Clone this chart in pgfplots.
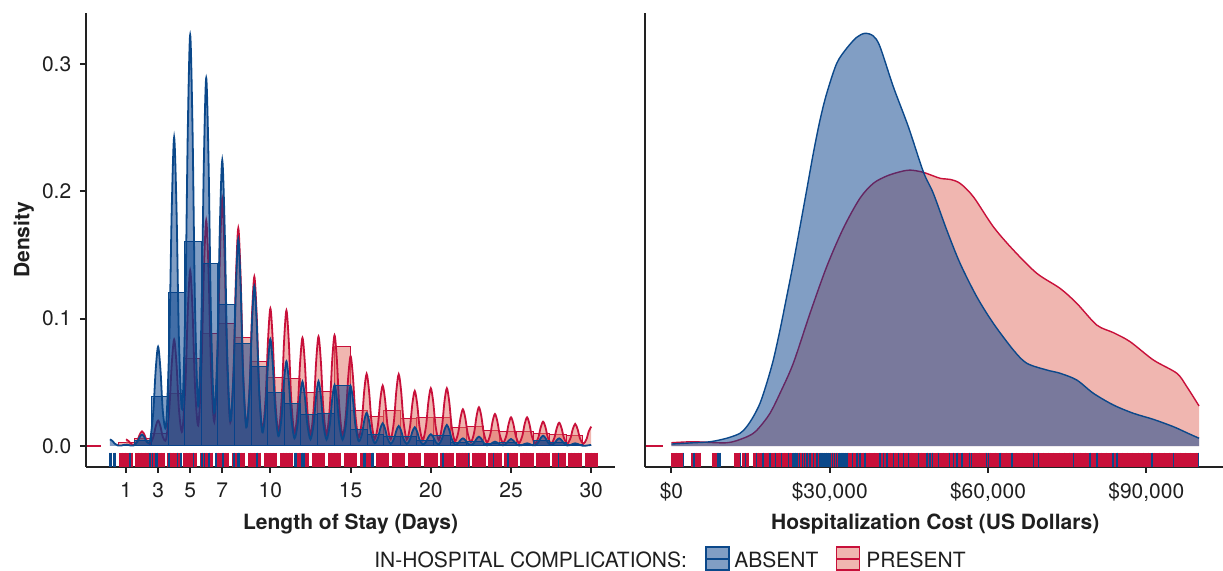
\documentclass[border=0pt]{standalone}
\usepackage{pgfplots}
\usepackage{pgfplotstable}
\usepackage{fontspec}
\setmainfont{TeX Gyre Heros}
\pgfplotsset{compat=1.18}

\definecolor{absline}{RGB}{11,72,138}
\definecolor{absfill}{RGB}{4,62,138}
\definecolor{presline}{RGB}{200,16,58}
\definecolor{presfill}{RGB}{225,109,97}
\definecolor{axisgray}{RGB}{34,34,34}
\newcommand\chartfont{\fontsize{10.5pt}{12pt}\selectfont}

% ---------- Length of stay: histogram bins (left edge, density) ----------
\pgfplotstableread{
x y
0.5172 0.0026
1.5517 0.0057
2.5862 0.0099
3.6207 0.0415
4.6552 0.0686
5.6897 0.0880
6.7241 0.0964
7.7586 0.0850
8.7931 0.0661
9.8276 0.0537
10.8621 0.0529
11.8966 0.0422
12.9310 0.0427
13.9655 0.0782
15.0000 0.0281
16.0345 0.0235
17.0690 0.0280
18.1034 0.0215
19.1379 0.0225
20.1724 0.0225
21.2069 0.0143
22.2414 0.0151
23.2759 0.0125
24.3103 0.0112
25.3448 0.0112
26.3793 0.0095
27.4138 0.0091
28.4483 0.0086
29.4828 0.0086
}\histpres
\pgfplotstableread{
x y
0.5172 0.0005
1.5517 0.0045
2.5862 0.0388
3.6207 0.1204
4.6552 0.1605
5.6897 0.1436
6.7241 0.1115
7.7586 0.0807
8.7931 0.0623
9.8276 0.0417
10.8621 0.0330
11.8966 0.0251
12.9310 0.0252
13.9655 0.0472
15.0000 0.0129
16.0345 0.0088
17.0690 0.0078
18.1034 0.0073
19.1379 0.0046
20.1724 0.0082
21.2069 0.0030
22.2414 0.0036
23.2759 0.0017
24.3103 0.0027
25.3448 0.0010
26.3793 0.0040
27.4138 0.0030
28.4483 0.0010
29.4828 0.0010
}\histabs

% ---------- Length of stay: kernel density curves ----------
\pgfplotstableread{
x y
1 .0052
1.15 .0040
1.3 .0018
1.5 .00085
1.7 .0039
1.85 .0088
2 .0115
2.15 .0088
2.3 .0039
2.5 .0016
2.7 .0069
2.85 .0153
3 .0200
3.15 .0153
3.3 .0069
3.5 .0053
3.7 .0287
3.85 .0640
4 .0836
4.15 .0640
4.3 .0287
4.5 .0113
4.7 .0473
4.85 .1056
5 .1380
5.15 .1056
5.3 .0473
5.5 .0161
5.7 .0607
5.85 .1356
6 .1772
6.15 .1356
6.3 .0607
6.5 .0190
6.7 .0665
6.85 .1484
7 .1940
7.15 .1484
7.3 .0665
7.5 .0187
7.7 .0586
7.85 .1308
8 .1710
8.15 .1308
8.3 .0586
8.5 .0155
8.7 .0456
8.85 .1018
9 .1330
9.15 .1018
9.3 .0456
9.5 .0123
9.7 .0370
9.85 .0826
10 .1080
10.15 .0826
10.3 .0370
10.5 .0110
10.7 .0365
10.85 .0815
11 .1065
11.15 .0815
11.3 .0365
11.5 .0098
11.7 .0291
11.85 .0650
12 .0850
12.15 .0650
12.3 .0291
12.5 .0087
12.7 .0295
12.85 .0658
13 .0860
13.15 .0658
13.3 .0295
13.5 .0088
13.7 .0298
13.85 .0666
14 .0870
14.15 .0666
14.3 .0298
14.5 .0080
14.7 .0242
14.85 .0539
15 .0705
15.15 .0539
15.3 .0242
15.5 .0065
15.7 .0194
15.85 .0433
16 .0566
16.15 .0433
16.3 .0194
16.5 .0053
16.7 .0162
16.85 .0363
17 .0474
17.15 .0363
17.3 .0162
17.5 .0053
17.7 .0193
17.85 .0431
18 .0563
18.15 .0431
18.3 .0193
18.5 .0051
18.7 .0148
18.85 .0331
19 .0432
19.15 .0331
19.3 .0148
19.5 .0045
19.7 .0155
19.85 .0347
20 .0453
20.15 .0347
20.3 .0155
20.5 .0046
20.7 .0155
20.85 .0347
21 .0453
21.15 .0347
21.3 .0155
21.5 .0038
21.7 .0099
21.85 .0220
22 .0288
22.15 .0220
22.3 .0099
22.5 .0030
22.7 .0104
22.85 .0233
23 .0304
23.15 .0233
23.3 .0104
23.5 .0028
23.7 .0086
23.85 .0192
24 .0251
24.15 .0192
24.3 .0086
24.5 .0024
24.7 .0077
24.85 .0172
25 .0225
25.15 .0172
25.3 .0077
25.5 .0023
25.7 .0077
25.85 .0172
26 .0225
26.15 .0172
26.3 .0077
26.5 .0021
26.7 .0065
26.85 .0146
27 .0191
27.15 .0146
27.3 .0065
27.5 .0019
27.7 .0063
27.85 .0140
28 .0183
28.15 .0140
28.3 .0063
28.5 .0018
28.7 .0059
28.85 .0132
29 .0173
29.15 .0132
29.3 .0059
29.5 .0017
29.7 .0052
29.85 .0116
30 .0152
}\kdepres
\pgfplotstableread{
x y
0 .0052
0.15 .0040
0.3 .0018
0.5 .0003
0.7 .0003
0.85 .0008
1 .0010
1.15 .0008
1.3 .0003
1.5 .0005
1.7 .0031
1.85 .0069
2 .0090
2.15 .0069
2.3 .0031
2.5 .0044
2.7 .0267
2.85 .0597
3 .0780
3.15 .0597
3.3 .0267
3.5 .0164
3.7 .0831
3.85 .1855
4 .2424
4.15 .1855
4.3 .0831
4.5 .0289
4.7 .1107
4.85 .2471
5 .3230
5.15 .2471
5.3 .1107
5.5 .0313
5.7 .0990
5.85 .2211
6 .2890
6.15 .2211
6.3 .0990
6.5 .0262
6.7 .0769
6.85 .1718
7 .2245
7.15 .1718
7.3 .0769
7.5 .0198
7.7 .0557
7.85 .1243
8 .1624
8.15 .1243
8.3 .0557
8.5 .0147
8.7 .0430
8.85 .0960
9 .1255
9.15 .0960
9.3 .0430
9.5 .0107
9.7 .0288
9.85 .0643
10 .0840
10.15 .0643
10.3 .0288
10.5 .0077
10.7 .0228
10.85 .0509
11 .0665
11.15 .0509
11.3 .0228
11.5 .0060
11.7 .0173
11.85 .0386
12 .0505
12.15 .0386
12.3 .0173
12.5 .0052
12.7 .0174
12.85 .0389
13 .0508
13.15 .0389
13.3 .0174
13.5 .0050
13.7 .0164
13.85 .0366
14 .0479
14.15 .0366
14.3 .0164
14.5 .0049
14.7 .0161
14.85 .0360
15 .0471
15.15 .0360
15.3 .0161
15.5 .0037
15.7 .0089
15.85 .0199
16 .0260
16.15 .0199
16.3 .0089
16.5 .0022
16.7 .0061
16.85 .0136
17 .0178
17.15 .0136
17.3 .0061
17.5 .0017
17.7 .0054
17.85 .0120
18 .0157
18.15 .0120
18.3 .0054
18.5 .0016
18.7 .0050
18.85 .0112
19 .0147
19.15 .0112
19.3 .0050
19.5 .0012
19.7 .0032
19.85 .0070
20 .0092
20.15 .0070
20.3 .0032
20.5 .0013
20.7 .0057
20.85 .0126
21 .0165
21.15 .0126
21.3 .0057
21.5 .0011
21.7 .0021
21.85 .0046
22 .0060
22.15 .0046
22.3 .0021
22.5 .0007
22.7 .0025
22.85 .0056
23 .0073
23.15 .0056
23.3 .0025
23.5 .0005
23.7 .0012
23.85 .0026
24 .0034
24.15 .0026
24.3 .0012
24.5 .0005
24.7 .0019
24.85 .0042
25 .0055
25.15 .0042
25.3 .0019
25.5 .0004
25.7 .0007
25.85 .0016
26 .0021
26.15 .0016
26.3 .0007
26.5 .0005
26.7 .0028
26.85 .0062
27 .0081
27.15 .0062
27.3 .0028
27.5 .0007
27.7 .0021
27.85 .0046
28 .0060
28.15 .0046
28.3 .0021
28.5 .0004
28.7 .0007
28.85 .0016
29 .0021
29.15 .0016
29.3 .0007
29.5 .0001
29.7 .0003
29.85 .0006
30 .0008
}\kdeabs

% ---------- Hospitalization cost: density (x in US$, y in 1e-5 per $) ----------
\pgfplotstableread{
x y
0 .023
4133 .030
10466 .023
13613 .055
15509 .090
16780 .137
18676 .232
20572 .374
23093 .587
26260 .941
29426 1.272
32573 1.544
35721 1.757
38262 1.863
40802 1.915
43324 1.945
45220 1.957
47741 1.941
50908 1.899
52805 1.891
54700 1.863
57222 1.768
61013 1.555
64805 1.390
69242 1.225
73660 1.118
76826 1.012
80618 .858
83765 .804
86932 .740
91349 .610
95785 .516
97681 .421
100000 .284
}\costpres
\pgfplotstableread{
x y
0 .014
4133 .023
7300 .030
10466 .055
12988 .090
14258 .137
15509 .208
16780 .303
18050 .445
19301 .610
20572 .823
21842 1.059
23093 1.296
24364 1.555
25634 1.816
26885 2.076
28156 2.312
29426 2.501
31322 2.714
33218 2.821
35114 2.899
36688 2.927
38262 2.908
39532 2.832
42053 2.548
44897 2.265
47741 1.945
49637 1.792
52178 1.532
54700 1.296
57866 1.059
61013 .870
64805 .681
67346 .587
71138 .539
73660 .516
76826 .468
79973 .374
83765 .291
87557 .232
91349 .189
95141 .137
97681 .094
100000 .055
}\costabs

\pgfplotsset{
  panel/.style={
    anchor=south west, scale only axis, height=226.85pt,
    axis x line*=bottom, axis y line*=left,
    axis line style={-, axisgray, line width=1pt},
    tick align=outside, major tick length=3pt,
    tick style={axisgray, line width=1pt},
    tick label style={font=\chartfont, text=black!88},
    xticklabel style={yshift=-1.5pt},
    yticklabel style={xshift=-0.8pt},
    scaled ticks=false, axis on top,
  },
  rugpres/.style={only marks, mark=|, mark size=3.5pt,
    mark options={presline, line width=1.9pt}},
  rugabs/.style={only marks, mark=|, mark size=3.5pt,
    mark options={absline, line width=0.8pt}},
}

\begin{document}
\begin{tikzpicture}
\useasboundingbox (0,0) rectangle (611.5pt,285.5pt);

% ===================== Length of stay =====================
\begin{axis}[panel, at={(42.95pt,52.2pt)}, width=264.7pt,
  xmin=-1.5, xmax=31.5, ymin=-0.0162, ymax=0.3402,
  xtick={1,3,5,7,10,15,20,25,30},
  xticklabels={1,3,5,7,10,15,20,25,30},
  ytick={0,0.1,0.2,0.3}, yticklabels={0.0,0.1,0.2,0.3}]
  % present
  \addplot[ybar interval, fill=presfill, fill opacity=0.5,
    draw=presline, line width=0.5pt] table {\histpres};
  \addplot[draw=none, fill=presfill, fill opacity=0.5, smooth]
    table {\kdepres} \closedcycle;
  \addplot[presline, line width=0.9pt, smooth] table {\kdepres};
  % absent
  \addplot[ybar interval, fill=absfill, fill opacity=0.5,
    draw=absline, line width=0.5pt] table {\histabs};
  \addplot[draw=none, fill=absfill, fill opacity=0.5, smooth]
    table {\kdeabs} \closedcycle;
  \addplot[absline, line width=0.9pt, smooth] table {\kdeabs};
  % rugs
  \addplot[presline, line width=1.3pt] coordinates {(-1.5,0) (-0.58,0)};
  \addplot[rugpres] table[row sep=\\, x=x, y expr=-0.0107] {x\\
    0.7\\0.9\\1.1\\1.3\\1.7\\1.9\\2.1\\2.3\\2.7\\2.9\\3.1\\3.3\\
    3.7\\3.9\\4.1\\4.3\\4.7\\4.9\\5.1\\5.3\\5.7\\5.9\\6.1\\6.3\\
    6.7\\6.9\\7.1\\7.3\\7.7\\7.9\\8.1\\8.3\\8.7\\8.9\\9.1\\9.3\\
    9.7\\9.9\\10.1\\10.3\\10.7\\10.9\\11.1\\11.3\\11.7\\11.9\\12.1\\12.3\\
    12.7\\12.9\\13.1\\13.3\\13.7\\13.9\\14.1\\14.3\\14.7\\14.9\\15.1\\15.3\\
    15.7\\15.9\\16.1\\16.3\\16.7\\16.9\\17.1\\17.3\\17.7\\17.9\\18.1\\18.3\\
    18.7\\18.9\\19.1\\19.3\\19.7\\19.9\\20.1\\20.3\\20.7\\20.9\\21.1\\21.3\\
    21.7\\21.9\\22.1\\22.3\\22.7\\22.9\\23.1\\23.3\\23.7\\23.9\\24.1\\24.3\\
    24.7\\24.9\\25.1\\25.3\\25.7\\25.9\\26.1\\26.3\\26.7\\26.9\\27.1\\27.3\\
    27.7\\27.9\\28.1\\28.3\\28.7\\28.9\\29.1\\29.3\\29.7\\29.9\\30.1\\30.3\\};
  \addplot[rugabs] table[row sep=\\, x=x, y expr=-0.0107] {x\\
    -0.02\\0.05\\0.25\\0.33\\1.25\\2.48\\2.65\\2.85\\2.95\\3.68\\4.2\\4.42\\
    5.2\\5.75\\5.9\\6.18\\6.6\\7.05\\7.72\\7.98\\8.06\\9.15\\11.55\\11.62\\
    11.98\\12.1\\15.82\\15.9\\16.35\\16.42\\20.72\\20.8\\22.35\\23.9\\24.8\\27.95\\};
\end{axis}

% ===================== Hospitalization cost =====================
\begin{axis}[panel, at={(322.55pt,52.2pt)}, width=290.15pt,
  xmin=-5000, xmax=105000, ymin=-0.146, ymax=3.072,
  xtick={0,30000,60000,90000},
  xticklabels={\$0,{\$30,000},{\$60,000},{\$90,000}},
  ytick=\empty]
  \addplot[draw=none, fill=presfill, fill opacity=0.5, smooth]
    table {\costpres} \closedcycle;
  \addplot[presline, line width=0.7pt, smooth] table {\costpres};
  \addplot[draw=none, fill=absfill, fill opacity=0.5, smooth]
    table {\costabs} \closedcycle;
  \addplot[absline, line width=0.7pt, smooth] table {\costabs};
  % rugs
  \addplot[presline, line width=1.3pt] coordinates {(-5000,0) (-1668,0)};
  \addplot[rugpres, mark options={presline, line width=3pt}]
    table[row sep=\\, x=x, y expr=-0.0965] {x\\
    550\\1650\\4200\\5050\\8280\\12470\\13900\\14200\\
    16000\\17000\\18000\\19000\\20000\\21000\\22000\\23000\\24000\\25000\\
    26000\\27000\\28000\\29000\\30000\\31000\\32000\\33000\\34000\\35000\\
    36000\\37000\\38000\\39000\\40000\\41000\\42000\\43000\\44000\\45000\\
    46000\\47000\\48000\\49000\\50000\\51000\\52000\\53000\\54000\\55000\\
    56000\\57000\\58000\\59000\\60000\\61000\\62000\\63000\\64000\\65000\\
    66000\\67000\\68000\\69000\\70000\\71000\\72000\\73000\\74000\\75000\\
    76000\\77000\\78000\\79000\\80000\\81000\\82000\\83000\\84000\\85000\\
    86000\\87000\\88000\\89000\\90000\\91000\\92000\\93000\\94000\\95000\\
    96000\\97000\\98000\\99000\\99500\\};
  \addplot[rugabs] table[row sep=\\, x=x, y expr=-0.0965] {x\\
    2300\\4300\\8800\\9200\\13100\\14050\\16150\\17400\\18680\\19750\\
    20890\\22150\\23000\\23415\\23800\\24300\\24800\\25250\\25700\\26260\\
    26890\\27530\\28160\\28500\\28900\\29300\\29700\\30100\\30500\\30900\\
    31300\\31700\\32100\\32500\\32900\\33300\\34350\\35110\\35740\\36690\\
    39530\\40160\\40800\\42050\\43000\\43950\\44900\\46790\\48390\\49010\\
    49500\\50590\\52670\\53430\\54070\\55020\\56460\\56880\\59690\\60070\\
    62280\\64500\\68600\\69550\\76180\\79350\\80620\\83650\\84410\\91050\\
    95140\\99880\\};
\end{axis}

% axis titles
\node[anchor=base, inner sep=0, font=\chartfont\bfseries, text=black!88]
  at (175.3pt,20.5pt) {Length of Stay (Days)};
\node[anchor=base, inner sep=0, font=\chartfont\bfseries, text=black!88]
  at (467.6pt,20.5pt) {Hospitalization Cost (US Dollars)};
\node[anchor=base, inner sep=0, rotate=90, font=\chartfont\bfseries, text=black!88]
  at (14.75pt,165.6pt) {Density};

% legend
\node[anchor=base west, inner sep=0, font=\chartfont, text=black!88]
  at (187pt,1.75pt) {IN-HOSPITAL COMPLICATIONS:};
\fill[absfill, fill opacity=0.5] (353pt,0.4pt) rectangle (364.5pt,11.9pt);
\draw[absline, line width=0.7pt] (353pt,0.4pt) rectangle (364.5pt,11.9pt);
\draw[absline, line width=0.9pt] (353pt,6.15pt) -- (364.5pt,6.15pt);
\node[anchor=base west, inner sep=0, font=\chartfont, text=black!88]
  at (367pt,1.75pt) {ABSENT};
\fill[presfill, fill opacity=0.5] (418.25pt,0.4pt) rectangle (429.75pt,11.9pt);
\draw[presline, line width=0.7pt] (418.25pt,0.4pt) rectangle (429.75pt,11.9pt);
\draw[presline, line width=0.9pt] (418.25pt,6.15pt) -- (429.75pt,6.15pt);
\node[anchor=base west, inner sep=0, font=\chartfont, text=black!88]
  at (433pt,1.75pt) {PRESENT};
\end{tikzpicture}
\end{document}
